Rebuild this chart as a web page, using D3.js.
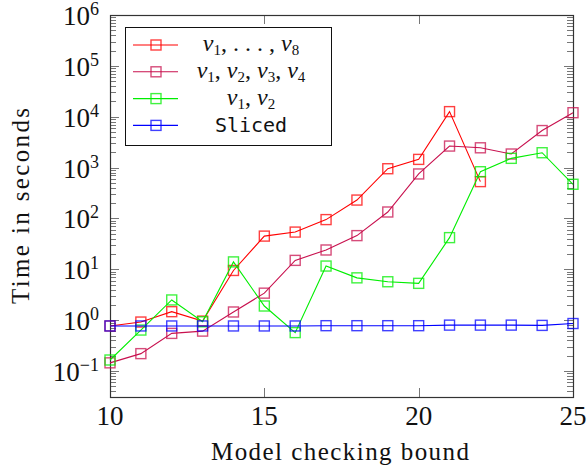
<!DOCTYPE html>
<html lang="en">
	<head>
		<meta charset="utf-8">
		<title>Time in seconds vs model checking bound</title>
		<script type="text/javascript" src="https://cdn.jsdelivr.net/npm/d3@7/dist/d3.min.js"></script>
		<style type="text/css">
			body { margin: 0; background: #fff; }
			text { font-family: "Liberation Serif", "DejaVu Serif", serif; }
		</style>
	</head>
	<body>
		<script type="text/javascript">

			//Data
			var bounds = [10, 11, 12, 13, 14, 15, 16, 17, 18, 19, 20, 21, 22, 23, 24, 25];
			var allVars = [0.77, 0.92, 1.47, 0.96, 9.5, 45, 54, 95, 230, 950, 1450, 12600, 530];
			var fourVars = [0.145, 0.22, 0.55, 0.61, 1.45, 3.4, 15, 24, 46, 134, 750, 2650, 2450, 1850, 5350, 12000];
			var twoVars = [0.165, 0.64, 2.5, 0.93, 14, 1.9, 0.57, 11.6, 6.8, 5.7, 5.3, 42, 830, 1520, 1960, 470];
			var sliced = [0.77, 0.77, 0.77, 0.77, 0.77, 0.77, 0.77, 0.78, 0.78, 0.78, 0.78, 0.8, 0.8, 0.8, 0.79, 0.86];
			var xTicks = [10, 15, 20, 25];
			var yExponents = [-1, 0, 1, 2, 3, 4, 5, 6];

			var series = [
				{ name: "all", values: allVars, color: "#ff0000" },
				{ name: "four", values: fourVars, color: "#c8104e" },
				{ name: "two", values: twoVars, color: "#00ee00" },
				{ name: "sliced", values: sliced, color: "#0000ff" }
			];

			//Width and height (plot box)
			var w = 587;
			var h = 470;
			var pLeft = 110, pRight = 573, pTop = 15, pBottom = 397;

			var xScale = d3.scaleLinear()
						.domain([10, 25])
						.range([pLeft, pRight]);

			var yScale = d3.scaleLog()
						.domain([Math.pow(10, -1.51), 1e6])
						.range([pBottom, pTop]);

			var svg = d3.select("body")
						.append("svg")
						.attr("width", w)
						.attr("height", h);

			//minor ticks (2..9 per decade), inside on left and right
			var minor = [];
			for (var e = -2; e < 6; e++) {
				for (var m = 2; m <= 9; m++) {
					var v = m * Math.pow(10, e);
					if (v >= yScale.domain()[0] && v <= 1e6) minor.push(v);
				}
			}
			var ticks = svg.append("g").attr("stroke", "#777").attr("stroke-width", 1);
			minor.forEach(function(v) {
				var y = Math.round(yScale(v)) + 0.5;
				ticks.append("line").attr("x1", pLeft).attr("x2", pLeft + 6).attr("y1", y).attr("y2", y);
				ticks.append("line").attr("x1", pRight).attr("x2", pRight - 6).attr("y1", y).attr("y2", y);
			});
			yExponents.forEach(function(e) {
				var y = Math.round(yScale(Math.pow(10, e))) + 0.5;
				ticks.append("line").attr("x1", pLeft).attr("x2", pLeft + 9).attr("y1", y).attr("y2", y);
				ticks.append("line").attr("x1", pRight).attr("x2", pRight - 9).attr("y1", y).attr("y2", y);
			});
			xTicks.forEach(function(t) {
				var x = Math.round(xScale(t)) + 0.5;
				ticks.append("line").attr("x1", x).attr("x2", x).attr("y1", pBottom).attr("y2", pBottom - 9);
				ticks.append("line").attr("x1", x).attr("x2", x).attr("y1", pTop).attr("y2", pTop + 9);
			});

			//Frame
			svg.append("rect")
			   .attr("x", pLeft + 0.5)
			   .attr("y", pTop + 0.5)
			   .attr("width", pRight - pLeft)
			   .attr("height", pBottom - pTop)
			   .attr("fill", "none")
			   .attr("stroke", "#333")
			   .attr("stroke-width", 1.2);

			//Y tick labels
			yExponents.forEach(function(e) {
				var t = svg.append("text")
				   .attr("x", 99)
				   .attr("y", yScale(Math.pow(10, e)) + 10)
				   .attr("text-anchor", "end")
				   .attr("font-size", "27px")
				   .attr("fill", "#111");
				t.append("tspan").text("10");
				t.append("tspan").attr("dy", -10).attr("font-size", "18px").text(e < 0 ? "\u2212" + (-e) : e);
			});

			//X tick labels
			svg.selectAll("text.xt")
			   .data(xTicks)
			   .enter()
			   .append("text")
			   .attr("class", "xt")
			   .attr("x", function(d) { return xScale(d); })
			   .attr("y", 425)
			   .attr("text-anchor", "middle")
			   .attr("font-size", "27px")
			   .attr("fill", "#111")
			   .text(function(d) { return d; });

			//Axis titles
			svg.append("text")
			   .attr("x", 340)
			   .attr("y", 460)
			   .attr("text-anchor", "middle")
			   .attr("font-size", "25px")
			   .attr("textLength", 258)
			   .attr("lengthAdjust", "spacing")
			   .attr("fill", "#111")
			   .text("Model checking bound");

			svg.append("text")
			   .attr("transform", "translate(29," + ((pTop + pBottom) / 2) + ") rotate(-90)")
			   .attr("text-anchor", "middle")
			   .attr("font-size", "25px")
			   .attr("textLength", 196)
			   .attr("lengthAdjust", "spacing")
			   .attr("fill", "#111")
			   .text("Time in seconds");

			//Lines and markers
			var line = d3.line()
						.x(function(d, i) { return xScale(bounds[i]); })
						.y(function(d) { return yScale(d); });

			series.forEach(function(s) {
				var g = svg.append("g");
				g.append("path")
				 .attr("d", line(s.values))
				 .attr("fill", "none")
				 .attr("stroke", s.color)
				 .attr("stroke-width", 1.1);
				g.selectAll("rect")
				 .data(s.values)
				 .enter()
				 .append("rect")
				 .attr("x", function(d, i) { return xScale(bounds[i]) - 5; })
				 .attr("y", function(d) { return yScale(d) - 5; })
				 .attr("width", 10)
				 .attr("height", 10)
				 .attr("fill", "none")
				 .attr("stroke", s.color)
				 .attr("stroke-opacity", 0.75)
				 .attr("stroke-width", 1.4);
			});

			//Legend
			var lg = svg.append("g");
			lg.append("rect")
			  .attr("x", 125.5)
			  .attr("y", 27.5)
			  .attr("width", 206)
			  .attr("height", 118)
			  .attr("fill", "white")
			  .attr("stroke", "#111")
			  .attr("stroke-width", 1);

			var labelParts = [
				[["v", "1"], [", . . . , "], ["v", "8"]],
				[["v", "1"], [", "], ["v", "2"], [", "], ["v", "3"], [", "], ["v", "4"]],
				[["v", "1"], [", "], ["v", "2"]],
				null
			];

			series.forEach(function(s, i) {
				var y = 45 + i * 26.8;
				lg.append("line")
				  .attr("x1", 133).attr("x2", 178)
				  .attr("y1", y).attr("y2", y)
				  .attr("stroke", s.color)
				  .attr("stroke-width", 1.1);
				lg.append("rect")
				  .attr("x", 151).attr("y", y - 5)
				  .attr("width", 10).attr("height", 10)
				  .attr("fill", "none")
				  .attr("stroke", s.color)
				  .attr("stroke-opacity", 0.75)
				  .attr("stroke-width", 1.4);

				var t = lg.append("text")
				  .attr("x", 251)
				  .attr("y", y + 6)
				  .attr("text-anchor", "middle")
				  .attr("font-size", "24px")
				  .attr("fill", "#111");
				if (labelParts[i] === null) {
					t.style("font-family", "'DejaVu Sans Mono', monospace")
					 .attr("font-size", "20px")
					 .attr("y", y + 7)
					 .text("Sliced");
				} else {
					var shift = 0;
					labelParts[i].forEach(function(p) {
						if (p.length === 2) {
							t.append("tspan").attr("font-style", "italic").attr("dy", -shift).text(p[0]);
							t.append("tspan").attr("font-size", "15px").attr("dy", 4).text(p[1]);
							shift = 4;
						} else {
							t.append("tspan").attr("dy", -shift).text(p[0]);
							shift = 0;
						}
					});
				}
			});

		</script>
	</body>
</html>
